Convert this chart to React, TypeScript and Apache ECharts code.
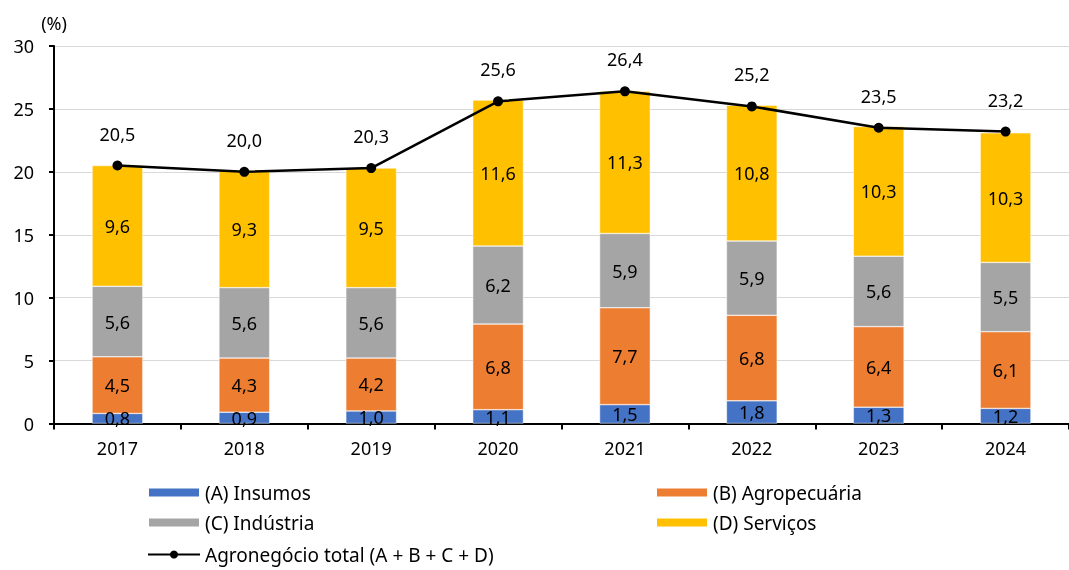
import React, { useEffect, useRef } from "react";
import * as echarts from "echarts";

const years = ["2017", "2018", "2019", "2020", "2021", "2022", "2023", "2024"];
const insumos = [0.8, 0.9, 1.0, 1.1, 1.5, 1.8, 1.3, 1.2];
const agropecuaria = [4.5, 4.3, 4.2, 6.8, 7.7, 6.8, 6.4, 6.1];
const industria = [5.6, 5.6, 5.6, 6.2, 5.9, 5.9, 5.6, 5.5];
const servicos = [9.6, 9.3, 9.5, 11.6, 11.3, 10.8, 10.3, 10.3];
const total = [20.5, 20.0, 20.3, 25.6, 26.4, 25.2, 23.5, 23.2];

const FONT = "Noto Sans";
const FS = 18;
const fmt = (v: number) => v.toFixed(1).replace(".", ",");

export default function App() {
  const ref = useRef<HTMLDivElement>(null);
  useEffect(() => {
    if (!ref.current) return;
    const chart = echarts.init(ref.current, undefined, { renderer: "svg" });
    const barSeries = (name: string, data: number[], color: string) => ({
      name,
      type: "bar",
      stack: "s",
      data,
      barWidth: "40%",
      itemStyle: { color, borderColor: "#ffffff", borderWidth: 0.5 },
      label: {
        show: true,
        position: "inside",
        color: "#000",
        fontSize: FS,
        fontFamily: FONT,
        formatter: (p: any) => fmt(p.value),
      },
    });
    const legendText = { fontSize: 19, color: "#000", fontFamily: FONT };
    const mkLegend = (name: string, left: number, top: number, icon?: string) => ({
      data: [icon ? { name, icon } : name],
      left,
      top,
      itemWidth: 52,
      itemHeight: 10,
      textStyle: legendText,
      itemGap: 4,
      padding: 0,
    });
    chart.setOption({
      animation: false,
      textStyle: { fontFamily: FONT },
      grid: { left: 54, top: 46, width: 1024, bottom: 146.5, containLabel: false },
      legend: [
        mkLegend("(A) Insumos", 147, 483, "rect"),
        mkLegend("(B) Agropecuária", 655, 483, "rect"),
        mkLegend("(C) Indústria", 147, 513, "rect"),
        mkLegend("(D) Serviços", 655, 513, "rect"),
        mkLegend("Agronegócio total (A + B + C + D)", 147, 545),
      ],
      xAxis: {
        type: "category",
        data: years,
        axisLine: { lineStyle: { color: "#000", width: 2 } },
        axisTick: { show: true, length: 6, lineStyle: { color: "#000", width: 2 } },
        axisLabel: { color: "#000", fontSize: FS, fontFamily: FONT, margin: 15 },
      },
      yAxis: {
        type: "value",
        min: 0,
        max: 30,
        interval: 5,
        name: "(%)",
        nameLocation: "end",
        nameGap: 14,
        nameTextStyle: { color: "#000", fontSize: FS, fontFamily: FONT, align: "center" },
        axisLine: { show: true, lineStyle: { color: "#000", width: 2 } },
        axisTick: { show: true, length: 5, lineStyle: { color: "#000", width: 2 } },
        axisLabel: { color: "#000", fontSize: FS, fontFamily: FONT, margin: 20 },
        splitLine: { lineStyle: { color: "#d9d9d9", width: 1 } },
      },
      series: [
        barSeries("(A) Insumos", insumos, "#4472C4"),
        barSeries("(B) Agropecuária", agropecuaria, "#ED7D31"),
        barSeries("(C) Indústria", industria, "#A5A5A5"),
        barSeries("(D) Serviços", servicos, "#FFC000"),
        {
          name: "Agronegócio total (A + B + C + D)",
          type: "line",
          data: total,
          z: 10,
          symbol: "circle",
          symbolSize: 10,
          lineStyle: { color: "#000", width: 2.5 },
          itemStyle: { color: "#000" },
          label: {
            show: true,
            position: "top",
            distance: 18,
            color: "#000",
            fontSize: FS,
            fontFamily: FONT,
            formatter: (p: any) => fmt(p.value),
          },
        },
      ],
    });
    return () => chart.dispose();
  }, []);
  return (
    <div
      ref={ref}
      style={{ position: "fixed", left: 0, top: 0, width: 1069, height: 570 }}
    />
  );
}
